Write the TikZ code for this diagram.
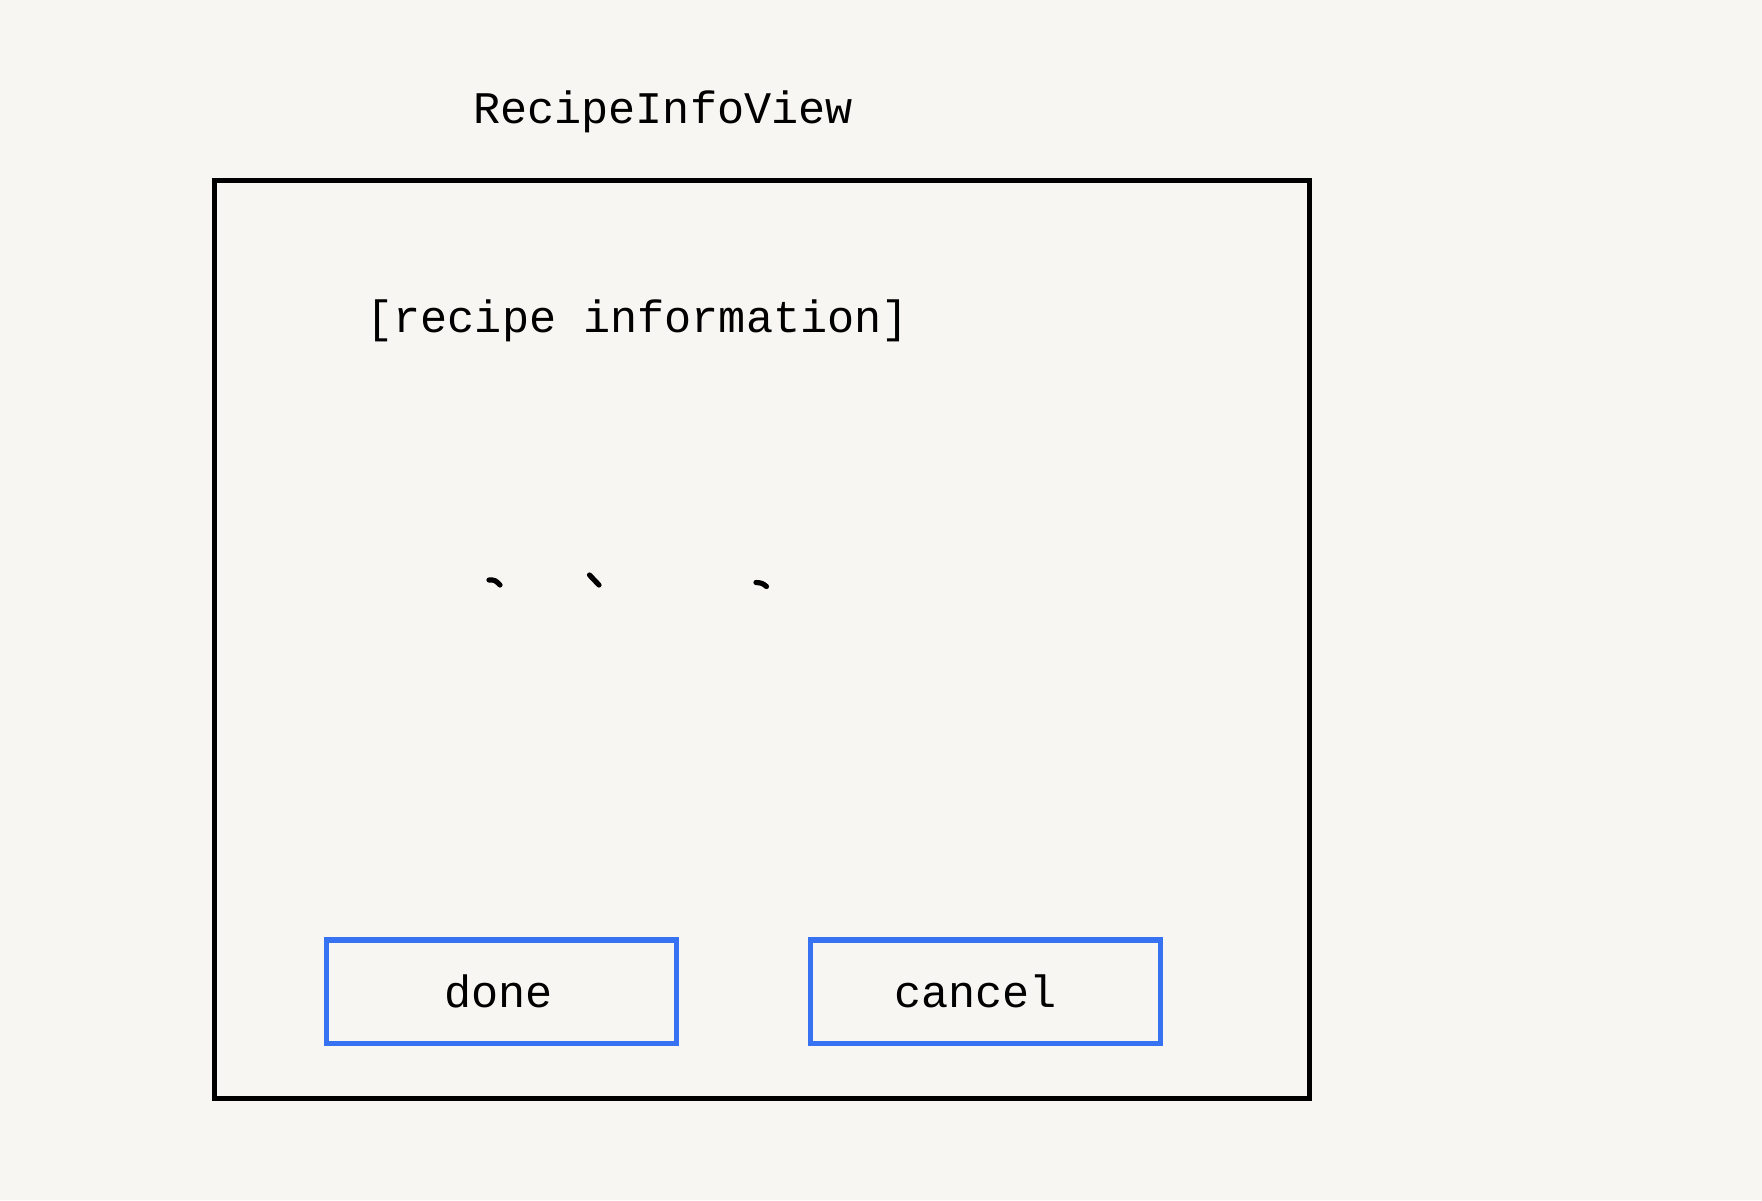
\documentclass[tikz,border=0pt]{standalone}
\usepackage{fontspec}
\setmonofont{Liberation Mono}
\usetikzlibrary{positioning}
\definecolor{paper}{RGB}{247,246,242}
\definecolor{btnblue}{RGB}{54,114,242}
\begin{document}
\begin{tikzpicture}[x=0.5pt, y=-0.5pt]
    \tikzset{
    frame/.style={
        rectangle,
        draw,
        line width=2.6pt,
        minimum width=547.8pt,
        minimum height=459.2pt
    },
    button/.style={
        rectangle,
        draw=btnblue,
        line width=2.6pt,
        minimum width=175pt,
        minimum height=51.7pt,
        font=\ttfamily\fontsize{22.6}{26}\selectfont
    },
    monotext/.style={
        inner sep=0pt,
        font=\ttfamily\fontsize{22.6}{26}\selectfont
    },
    scratch/.style={
        line width=2.6pt, line cap=round
    }
}
    \fill[paper] (0,0) rectangle (1762,1200);

    \node[frame] (view) at (762,639.5) {};
    \node[monotext, anchor=base] (title) at (663,123) {RecipeInfoView};
    \node[monotext, anchor=base west] (info) at (366,332) {[recipe information]};

    % Boutons
    \node[button] (done) at (501.5,991.75) {\hspace*{-3pt}done};
    \node[button, right=64.5pt of done] (cancel) {\hspace*{-10pt}cancel};

    % Traits
    \draw[scratch] (489,580) .. controls (495,580) .. (500,585);
    \draw[scratch] (589.5,575) -- (599,585);
    \draw[scratch] (756,582.5) .. controls (762,583) .. (766.5,586.5);
\end{tikzpicture}
\end{document}
